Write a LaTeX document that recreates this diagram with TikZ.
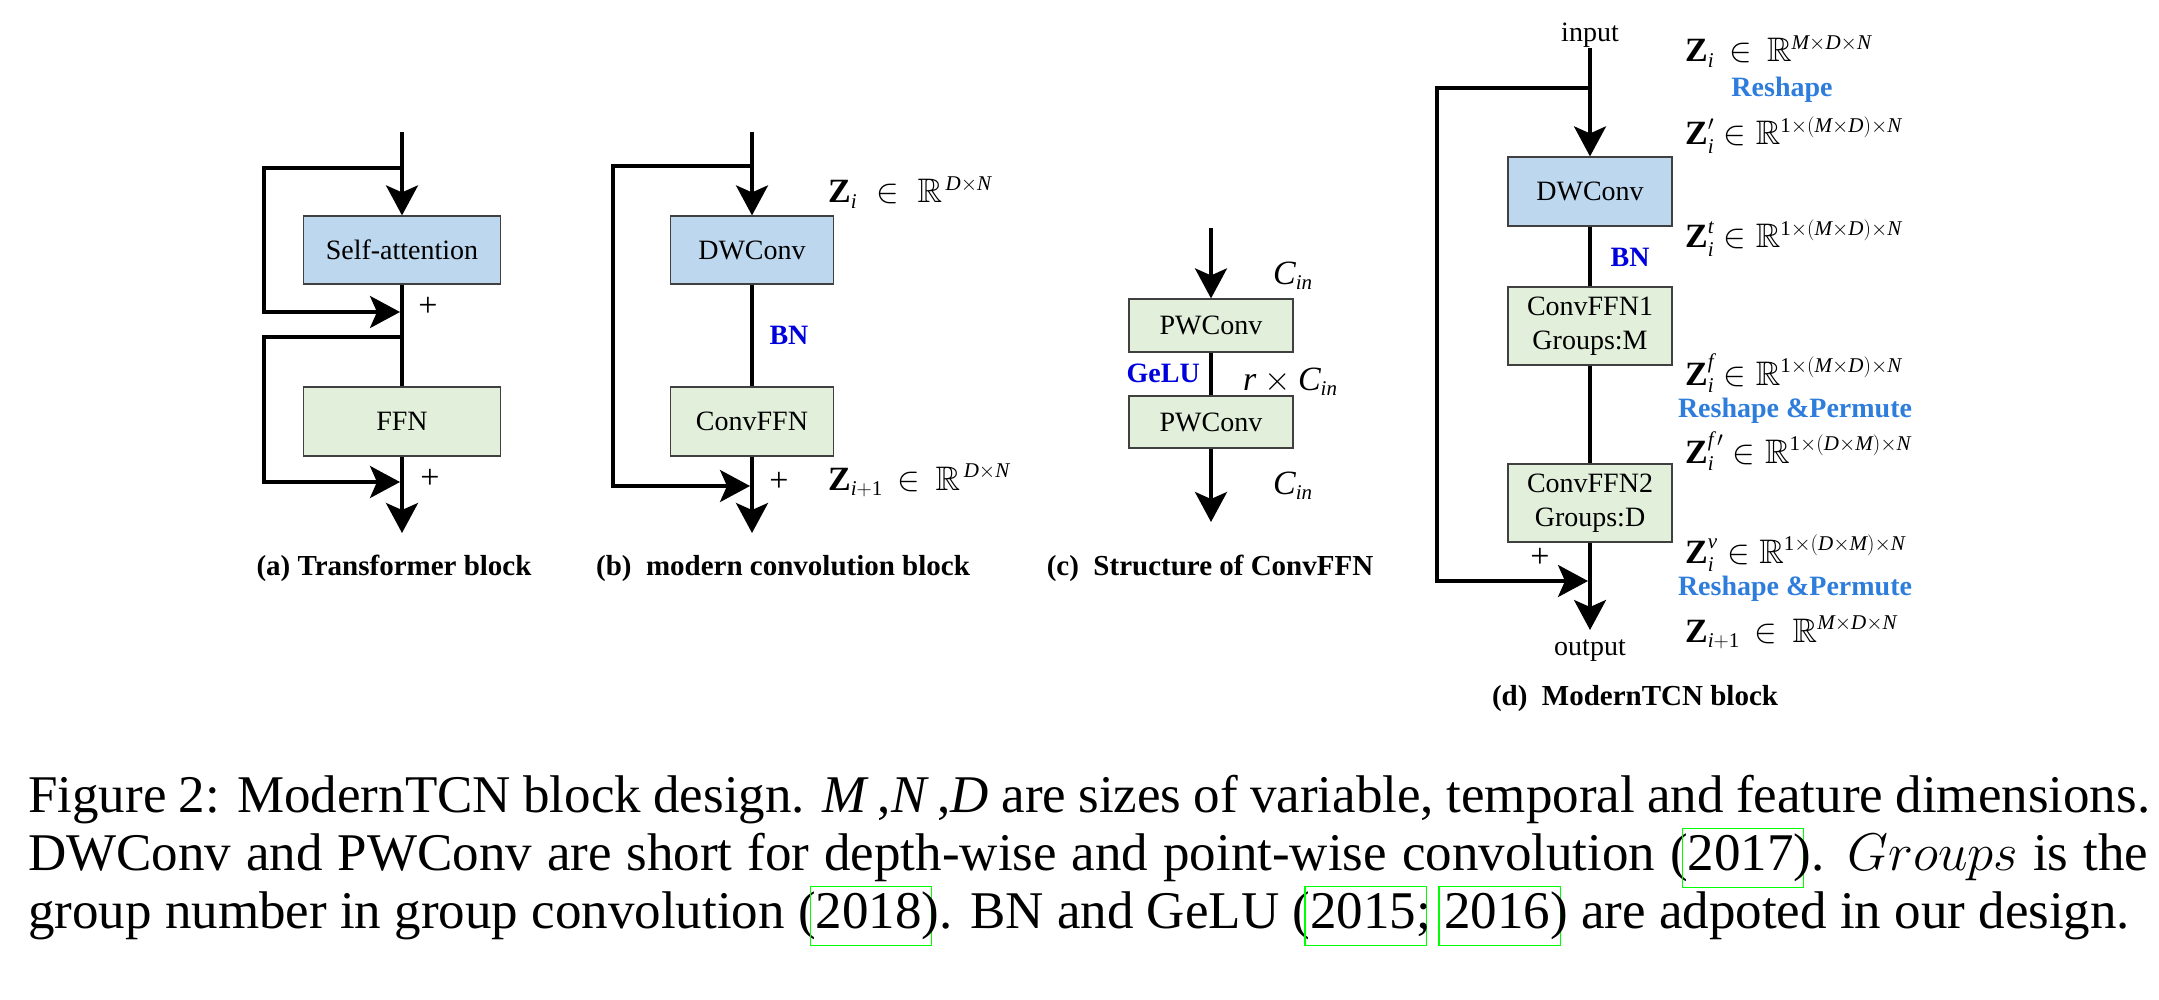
\RequirePackage{fix-cm}
\documentclass[tikz,border=0pt]{standalone}
\usepackage{amsmath,amssymb}
\DeclareFontFamily{U}{msb}{}
\DeclareFontShape{U}{msb}{m}{n}{<-> msbm10}{}
\DeclareMathSizes{34}{34}{21}{16}
\usepackage{fontspec}
\setmainfont{Liberation Serif}
\usetikzlibrary{arrows.meta}
\definecolor{boxblue}{RGB}{189,215,238}
\definecolor{boxgreen}{RGB}{226,239,218}
\definecolor{bnblue}{RGB}{0,0,220}
\definecolor{rsblue}{RGB}{46,125,220}
\definecolor{linkgreen}{RGB}{0,255,0}
\definecolor{boxline}{RGB}{64,64,64}
\newcommand{\mi}[1]{\textit{#1}}
\newcommand{\ZB}{\textbf{Z}}
\newcommand{\cit}[1]{\setbox0=\hbox{#1}\rlap{\kern-6pt\textcolor{linkgreen}{\fboxsep=0pt\fboxrule=1.3pt\fbox{\rule[-17pt]{0pt}{58pt}\kern\dimexpr\wd0+14pt\relax}}}\box0}
\tikzset{
  ln/.style={line width=3.5pt},
  arr/.style={-{Stealth[length=30pt,width=32pt,inset=7pt]}},
  bbox/.style={draw=boxline,line width=1.2pt,fill=boxblue,inner sep=0pt,align=center,font=\fontsize{28}{34}\selectfont},
  gbox/.style={draw=boxline,line width=1.2pt,fill=boxgreen,inner sep=0pt,align=center,font=\fontsize{28}{34}\selectfont},
  lbl/.style={font=\fontsize{29}{32}\selectfont\bfseries,inner sep=0pt},
  txt/.style={font=\fontsize{28}{32}\selectfont,inner sep=0pt},
  mth/.style={font=\fontsize{34}{40}\selectfont,inner sep=0pt},
  bnl/.style={font=\fontsize{28}{32}\selectfont\bfseries,text=bnblue,inner sep=0pt},
  rsl/.style={font=\fontsize{28}{32}\selectfont\bfseries,text=rsblue,inner sep=0pt},
  pls/.style={font=\fontsize{34}{38}\selectfont,inner sep=0pt},
  captext/.style={font=\fontsize{53}{58}\selectfont,inner sep=0pt}
}
\begin{document}
\begin{tikzpicture}[x=1pt,y=-1pt]
\fill[white] (0,0) rectangle (2159,1000);
\useasboundingbox (0,0) rectangle (2159,1000);

% ---------- (a) Transformer block ----------
\node[bbox,minimum width=197pt,minimum height=68pt] (sa) at (402,250) {Self-attention};
\node[gbox,minimum width=197pt,minimum height=69pt] (ffn) at (402,421.5) {FFN};
\coordinate (a0) at (402,132);
\coordinate (a1) at (402,168);
\coordinate (a1l) at (264,168);
\coordinate (a2l) at (264,312);
\coordinate (a2) at (400,312);
\coordinate (a3) at (402,337);
\coordinate (a3l) at (264,337);
\coordinate (a4l) at (264,482);
\coordinate (a4) at (400,482);
\coordinate (a5) at (402,533);
\draw[ln,arr] (a0) -- (sa.north);
\draw[ln,arr] (a1) -- (a1l) -- (a2l) -- (a2);
\draw[ln] (sa.south) -- (ffn.north);
\draw[ln,arr] (a3) -- (a3l) -- (a4l) -- (a4);
\draw[ln,arr] (ffn.south) -- (a5);
\node[pls] (pa1) at (428,307) {+};
\node[pls] (pa2) at (430,479) {+};
\node[lbl,anchor=base] (la) at (394,575) {(a) Transformer block};

% ---------- (b) modern convolution block ----------
\node[bbox,minimum width=163pt,minimum height=68pt] (dwb) at (752,250) {DWConv};
\node[gbox,minimum width=163pt,minimum height=69pt] (cfb) at (752,421.5) {ConvFFN};
\coordinate (b0) at (752,132);
\coordinate (b1) at (752,166);
\coordinate (b1l) at (613,166);
\coordinate (b2l) at (613,486);
\coordinate (b2) at (750,486);
\coordinate (b5) at (752,533);
\draw[ln,arr] (b0) -- (dwb.north);
\draw[ln] (dwb.south) -- (cfb.north);
\draw[ln,arr] (b1) -- (b1l) -- (b2l) -- (b2);
\draw[ln,arr] (cfb.south) -- (b5);
\node[bnl] (bnb) at (789,335) {BN};
\node[pls] (pb) at (779,482) {+};
\node[mth,anchor=base west] (zb1) at (828,203) {$\ZB_{\mi{i}}\;\in\;\mathbb{R}^{\,\mi{D}\times \mi{N}}$};
\node[mth,anchor=base west] (zb2) at (828,490) {$\ZB_{\mi{i}+\textrm{1}}\,\in\,\mathbb{R}^{\,\mi{D}\times \mi{N}}$};
\node[lbl,anchor=base] (lb) at (783,575) {(b)\ \ modern convolution block};

% ---------- (c) Structure of ConvFFN ----------
\node[gbox,minimum width=164pt,minimum height=53pt] (pw1) at (1211,325.5) {PWConv};
\node[gbox,minimum width=164pt,minimum height=52pt] (pw2) at (1211,422) {PWConv};
\coordinate (c0) at (1211,228);
\coordinate (c5) at (1211,522);
\draw[ln,arr] (c0) -- (pw1.north);
\draw[ln] (pw1.south) -- (pw2.north);
\draw[ln,arr] (pw2.south) -- (c5);
\node[bnl,anchor=base east] (gelu) at (1200,382) {GeLU};
\node[mth,anchor=base west] (cin1) at (1273,284) {$\mi{C}_{\mi{in}}$};
\node[mth,anchor=base west] (rcin) at (1243,390) {$\mi{r}\times \mi{C}_{\mi{in}}$};
\node[mth,anchor=base west] (cin2) at (1273,494) {$\mi{C}_{\mi{in}}$};
\node[lbl,anchor=base] (lc) at (1210,575) {(c)\ \ Structure of ConvFFN};

% ---------- (d) ModernTCN block ----------
\node[txt,anchor=base] (inp) at (1590,42) {input};
\node[bbox,minimum width=164pt,minimum height=69pt] (dwd) at (1590,191.5) {DWConv};
\node[gbox,minimum width=164pt,minimum height=78pt] (cf1) at (1590,326) {ConvFFN1\\Groups:M};
\node[gbox,minimum width=164pt,minimum height=78pt] (cf2) at (1590,503) {ConvFFN2\\Groups:D};
\node[txt,anchor=base] (outp) at (1590,655) {output};
\coordinate (d0) at (1590,48);
\coordinate (d1) at (1590,88);
\coordinate (d1l) at (1437,88);
\coordinate (d2l) at (1437,581);
\coordinate (d2) at (1588,581);
\coordinate (d5) at (1590,630);
\draw[ln,arr] (d0) -- (dwd.north);
\draw[ln] (dwd.south) -- (cf1.north);
\draw[ln] (cf1.south) -- (cf2.north);
\draw[ln,arr] (d1) -- (d1l) -- (d2l) -- (d2);
\draw[ln,arr] (cf2.south) -- (d5);
\node[bnl] (bnd) at (1630,257) {BN};
\node[pls] (pd) at (1540,558) {+};
\node[mth,anchor=base west] (zd1) at (1685,62) {$\ZB_{\mi{i}}\,\in\,\mathbb{R}^{\mi{M}\times \mi{D}\times \mi{N}}$};
\node[rsl,anchor=base] (rs1) at (1782,97) {Reshape};
\node[mth,anchor=base west] (zd2) at (1685,145) {$\ZB^{\prime}_{\mi{i}} \in \mathbb{R}^{\textrm{1}\times(\mi{M}\times \mi{D})\times \mi{N}}$};
\node[mth,anchor=base west] (zd3) at (1685,248) {$\ZB^{\mi{t}}_{\mi{i}} \in \mathbb{R}^{\textrm{1}\times(\mi{M}\times \mi{D})\times \mi{N}}$};
\node[mth,anchor=base west] (zd4) at (1685,385) {$\ZB^{\mi{f}}_{\mi{i}} \in \mathbb{R}^{\textrm{1}\times(\mi{M}\times \mi{D})\times \mi{N}}$};
\node[rsl,anchor=base] (rs2) at (1795,417) {Reshape \&Permute};
\node[mth,anchor=base west] (zd5) at (1685,463) {$\ZB^{\mi{f}\,\prime}_{\mi{i}} \in \mathbb{R}^{\textrm{1}\times(\mi{D}\times \mi{M})\times \mi{N}}$};
\node[mth,anchor=base west] (zd6) at (1685,563) {$\ZB^{\mi{v}}_{\mi{i}} \in \mathbb{R}^{\textrm{1}\times(\mi{D}\times \mi{M})\times \mi{N}}$};
\node[rsl,anchor=base] (rs3) at (1795,595) {Reshape \&Permute};
\node[mth,anchor=base west] (zd7) at (1685,642) {$\ZB_{\mi{i}+\textrm{1}}\,\in\,\mathbb{R}^{\mi{M}\times \mi{D}\times \mi{N}}$};
\node[lbl,anchor=base] (ld) at (1635,705) {(d)\ \ ModernTCN block};

% ---------- caption ----------
\node[captext,anchor=base west] (cap1) at (28,812) {\makebox[2122pt][s]{Figure 2: ModernTCN block design. \textit{M}\,,\textit{N}\,,\textit{D} are sizes of variable, temporal and feature dimensions.}};
\node[captext,anchor=base west] (cap2) at (28,870) {\makebox[2120pt][s]{DWConv and PWConv are short for depth-wise and point-wise convolution (\cit{2017}). $Groups$ is the}};
\node[captext,anchor=base west] (cap3) at (28,928) {group number in group convolution (\cit{2018}). BN and GeLU (\cit{2015}; \cit{2016}) are adpoted in our design.};
\end{tikzpicture}
\end{document}
